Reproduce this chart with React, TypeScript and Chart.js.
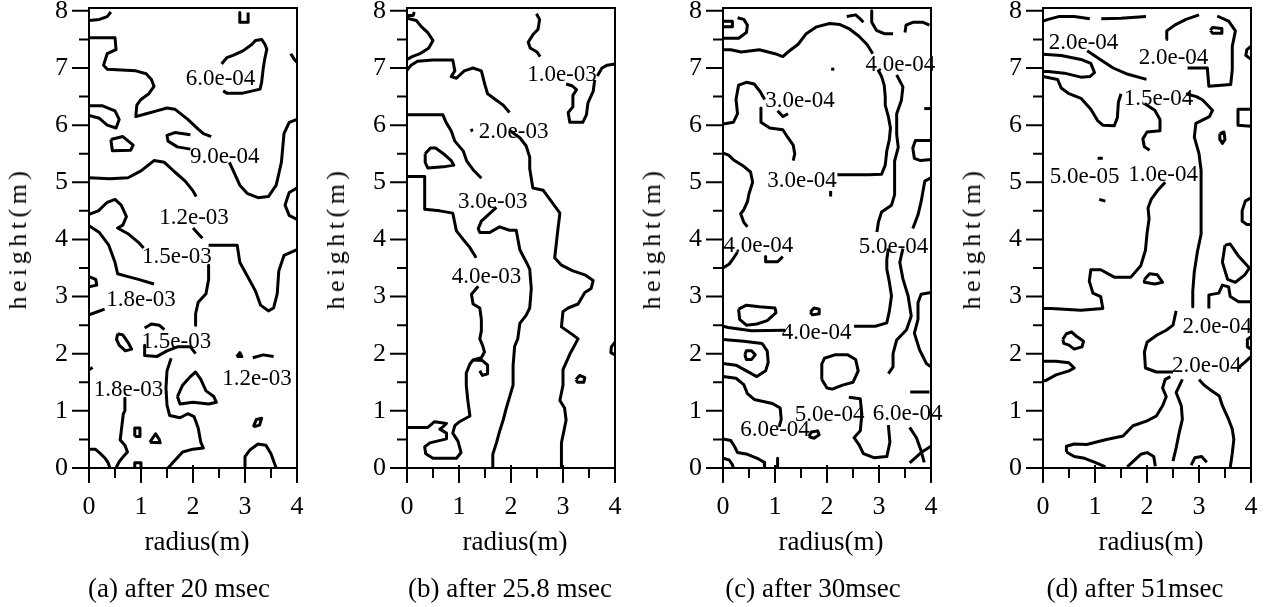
import { useEffect, useRef } from 'react';
import { Chart, registerables } from 'chart.js';

Chart.register(...registerables);

type Pt = [number, number];
type Label = [string, number, number];

// ---------- axes ----------
const xTickValues = [0, 1, 2, 3, 4];
const xMinorValues = [0.5, 1.5, 2.5, 3.5];
const yTickValues = [0, 1, 2, 3, 4, 5, 6, 7, 8];
const yMinorValues = [0.5, 1.5, 2.5, 3.5, 4.5, 5.5, 6.5, 7.5];
const radiusRange = [0, 4];
const heightRange = [0, 8.05];

const xTitle = 'radius(m)';
const yTitle = 'height(m)';
const captions = ['(a) after 20 msec', '(b) after 25.8 msec', '(c) after 30msec', '(d) after 51msec'];

// ---------- (a) after 20 msec ----------
const contoursA: Pt[][] = [
  [[0, 7.83], [0.2, 7.85], [0.35, 7.9], [0.42, 7.98]],
  [[2.9, 7.97], [2.9, 7.8], [3.06, 7.8], [3.06, 7.97]],
  [[3.88, 7.25], [3.95, 7.15], [4.0, 7.1]],
  [[2.55, 7.07], [2.65, 7.18], [2.77, 7.22], [2.96, 7.3], [3.13, 7.41], [3.2, 7.48], [3.32, 7.5], [3.38, 7.42], [3.42, 7.33], [3.38, 7.16], [3.35, 6.99], [3.32, 6.75], [3.29, 6.63], [2.96, 6.56], [2.65, 6.56], [2.58, 6.6]],
  [[0, 7.53], [0.5, 7.53], [0.52, 7.32], [0.35, 7.25], [0.28, 7.05], [0.35, 6.98], [0.9, 6.95], [1.1, 6.9], [1.2, 6.8], [1.25, 6.68], [1.15, 6.55], [1.0, 6.45], [0.92, 6.35], [0.9, 6.15], [1.1, 6.2], [1.3, 6.25], [1.5, 6.3], [1.65, 6.28], [1.9, 6.1], [2.1, 5.93], [2.2, 5.85], [2.35, 5.8]],
  [[2.7, 5.35], [2.8, 5.15], [2.9, 4.95], [3.05, 4.8], [3.25, 4.73], [3.45, 4.75], [3.6, 4.95], [3.7, 5.35], [3.75, 5.85], [3.85, 6.05], [4.0, 6.1]],
  [[0, 6.34], [0.25, 6.34], [0.5, 6.25], [0.58, 6.1], [0.52, 5.95], [0.35, 6.0], [0.2, 6.12], [0, 6.17]],
  [[0.42, 5.75], [0.65, 5.8], [0.85, 5.65], [0.8, 5.56], [0.45, 5.55], [0.42, 5.75]],
  [[1.95, 5.83], [1.65, 5.87], [1.5, 5.82], [1.52, 5.72], [1.7, 5.62], [1.95, 5.58]],
  [[0, 5.08], [0.4, 5.06], [0.75, 5.08], [1.0, 5.2], [1.25, 5.38], [1.45, 5.35], [1.65, 5.18], [1.85, 5.02], [2.0, 4.85], [2.06, 4.75]],
  [[2.0, 4.2], [2.1, 4.1], [2.18, 4.02]],
  [[2.3, 3.9], [2.85, 3.9], [2.9, 3.6], [3.05, 3.35], [3.2, 3.1], [3.3, 2.85], [3.45, 2.75], [3.55, 2.8], [3.62, 3.05], [3.65, 3.45], [3.75, 3.72], [4.0, 3.82]],
  [[4.0, 4.9], [3.85, 4.82], [3.77, 4.6], [3.85, 4.42], [4.0, 4.35]],
  [[0, 4.44], [0.18, 4.5], [0.35, 4.65], [0.5, 4.7], [0.62, 4.6], [0.72, 4.4], [0.65, 4.25], [0.55, 4.2], [0.75, 4.1], [0.95, 3.95], [1.05, 3.85]],
  [[0, 4.24], [0.2, 4.12], [0.38, 3.9], [0.5, 3.6], [0.55, 3.4], [0.75, 3.35], [0.95, 3.3], [1.25, 3.22]],
  [[2.3, 3.55], [2.3, 3.3], [2.25, 3.05], [2.1, 2.9], [2.05, 2.7], [2.05, 2.5]],
  [[1.07, 2.45], [1.2, 2.52], [1.35, 2.5], [1.45, 2.42]],
  [[0.55, 2.35], [0.65, 2.33], [0.75, 2.2], [0.82, 2.08], [0.7, 2.05], [0.58, 2.15], [0.53, 2.25], [0.55, 2.35]],
  [[1.07, 2.15], [1.07, 1.97], [1.3, 1.95], [1.5, 2.05], [1.7, 2.12], [1.95, 2.12], [2.05, 2.0]],
  [[1.58, 1.92], [1.5, 1.7], [1.48, 1.4], [1.5, 1.1], [1.55, 0.92], [1.75, 0.88], [1.9, 0.95], [2.02, 0.9], [2.1, 0.7], [2.15, 0.45], [2.2, 0.35], [2.0, 0.33], [1.8, 0.28], [1.65, 0.13], [1.52, 0]],
  [[1.7, 1.25], [1.8, 1.45], [1.95, 1.6], [2.05, 1.68], [2.15, 1.55], [2.25, 1.35], [2.4, 1.25], [2.45, 1.15], [2.3, 1.12], [2.0, 1.15], [1.75, 1.12], [1.7, 1.25]],
  [[0, 2.68], [0.15, 2.73], [0.3, 2.78]],
  [[0, 3.35], [0.13, 3.3], [0.15, 3.2], [0, 3.17]],
  [[0, 1.72], [0.07, 1.76]],
  [[0.69, 1.22], [0.69, 1.0], [0.66, 0.95], [0.63, 0.72], [0.6, 0.49], [0.69, 0.4], [0.74, 0.28], [0.66, 0.2], [0.58, 0.11], [0.52, 0]],
  [[0, 0.33], [0.12, 0.33], [0.21, 0.26], [0.31, 0.17], [0.37, 0.09], [0.4, 0]],
  [[0.88, 0.55], [0.88, 0.7], [0.98, 0.7], [0.98, 0.55], [0.88, 0.55]],
  [[1.17, 0.45], [1.28, 0.6], [1.35, 0.5], [1.37, 0.44], [1.17, 0.45]],
  [[0.88, 0], [0.88, 0.09], [1.0, 0.09], [1.0, 0]],
  [[3.0, 0], [3.0, 0.2], [3.1, 0.32], [3.25, 0.42], [3.4, 0.4], [3.5, 0.25], [3.58, 0.05], [3.6, 0]],
  [[3.16, 0.72], [3.22, 0.85], [3.32, 0.87], [3.28, 0.75], [3.16, 0.72]],
  [[2.84, 1.95], [2.9, 2.02], [2.94, 1.95], [2.84, 1.95]],
  [[3.15, 1.93], [3.35, 1.98], [3.55, 1.95]],
];
const labelsA: Label[] = [
  ['6.0e-04', 2.53, 6.8],
  ['9.0e-04', 2.61, 5.44],
  ['1.2e-03', 2.02, 4.37],
  ['1.5e-03', 1.69, 3.69],
  ['1.8e-03', 1.0, 2.94],
  ['1.5e-03', 1.68, 2.2],
  ['1.2e-03', 3.23, 1.56],
  ['1.8e-03', 0.76, 1.36],
];

// ---------- (b) after 25.8 msec ----------
const contoursB: Pt[][] = [
  [[0, 7.92], [0.12, 7.92], [0.14, 7.98]],
  [[0, 7.87], [0.18, 7.83], [0.28, 7.72], [0.4, 7.62], [0.5, 7.48], [0.42, 7.35], [0.25, 7.25], [0.1, 7.2], [0, 7.15]],
  [[0, 6.96], [0.08, 7.05], [0.2, 7.12], [0.5, 7.14], [0.88, 7.14], [0.92, 6.95], [0.85, 6.85], [0.95, 6.82], [1.1, 6.95], [1.27, 7.0], [1.43, 6.95], [1.5, 6.7], [1.55, 6.55], [1.7, 6.45], [1.85, 6.35], [1.97, 6.22]],
  [[2.49, 7.95], [2.55, 7.85], [2.52, 7.68], [2.42, 7.58], [2.33, 7.45], [2.37, 7.35], [2.5, 7.28], [2.56, 7.2]],
  [[3.61, 6.79], [3.58, 6.59], [3.48, 6.39], [3.45, 6.18], [3.38, 6.05], [3.13, 6.05], [3.1, 6.22], [3.19, 6.32], [3.19, 6.52], [3.26, 6.62], [3.17, 6.69], [3.06, 6.72]],
  [[3.66, 6.86], [3.75, 7.0], [3.85, 7.05], [4.0, 7.07]],
  [[0, 6.18], [0.69, 6.18], [0.75, 6.05], [0.85, 5.9], [0.92, 5.72], [1.08, 5.55], [1.15, 5.37], [1.27, 5.22], [1.43, 5.07]],
  [[1.22, 5.9], [1.27, 5.92]],
  [[1.97, 5.91], [2.17, 5.78], [2.29, 5.64], [2.36, 5.44], [2.36, 5.24], [2.42, 4.9], [2.62, 4.86], [2.78, 4.66], [2.94, 4.46], [2.9, 4.16], [2.84, 3.68], [2.97, 3.55], [3.19, 3.45], [3.42, 3.38], [3.58, 3.28], [3.54, 3.14], [3.42, 3.07], [3.29, 2.87], [3.1, 2.8], [3.0, 2.74], [2.97, 2.47], [3.19, 2.33], [3.29, 2.26], [3.13, 1.99], [3.0, 1.72], [3.0, 1.45], [2.94, 1.18], [3.03, 1.05], [3.06, 0.84], [2.97, 0.44], [2.97, 0]],
  [[0.35, 5.5], [0.45, 5.6], [0.55, 5.6], [0.7, 5.5], [0.85, 5.38], [0.9, 5.3], [0.7, 5.27], [0.4, 5.25], [0.35, 5.35], [0.35, 5.5]],
  [[0, 5.1], [0.34, 5.1], [0.34, 4.53], [0.63, 4.5], [0.88, 4.46], [0.95, 4.15], [1.08, 4.0], [1.2, 3.87], [1.33, 3.68]],
  [[1.72, 4.56], [1.43, 4.32], [1.37, 4.19], [1.4, 4.12], [1.59, 4.12], [1.78, 4.22], [1.97, 4.16], [2.1, 4.16], [2.17, 3.82], [2.29, 3.61], [2.36, 3.48], [2.39, 3.14], [2.36, 2.8], [2.29, 2.67], [2.17, 2.53], [2.13, 2.26], [2.07, 2.13], [2.04, 1.79], [2.04, 1.45], [1.91, 1.05], [1.85, 0.84], [1.78, 0.64], [1.72, 0.44], [1.65, 0.24], [1.65, 0]],
  [[1.37, 3.18], [1.24, 3.04], [1.27, 2.87], [1.4, 2.8], [1.43, 2.6], [1.43, 2.4], [1.4, 2.26], [1.46, 2.13], [1.49, 2.03], [1.43, 1.93], [1.27, 1.89], [1.21, 1.82], [1.14, 1.66], [1.14, 1.45], [1.17, 1.18], [1.21, 0.91], [1.01, 0.81], [0.92, 0.74], [0.88, 0.61], [0.98, 0.47], [1.04, 0.27], [0.95, 0.17], [0.5, 0.17], [0.36, 0.25], [0.34, 0.37], [0.44, 0.44], [0.76, 0.51], [0.76, 0.61], [0.63, 0.68], [0.69, 0.72], [0.76, 0.78], [0.53, 0.81], [0.4, 0.71], [0, 0.71]],
  [[1.27, 1.89], [1.45, 1.88], [1.55, 1.8], [1.55, 1.65], [1.45, 1.62], [1.4, 1.7]],
  [[3.25, 1.55], [3.32, 1.62], [3.42, 1.58], [3.4, 1.5], [3.28, 1.5], [3.25, 1.55]],
  [[4.0, 2.2], [3.93, 2.12], [3.92, 2.02], [4.0, 1.98]],
];
const labelsB: Label[] = [
  ['1.0e-03', 2.98, 6.88],
  ['2.0e-03', 2.05, 5.88],
  ['3.0e-03', 1.65, 4.66],
  ['4.0e-03', 1.53, 3.34],
];

// ---------- (c) after 30msec ----------
const contoursC: Pt[][] = [
  [[0, 7.72], [0.18, 7.72], [0.18, 7.82], [0, 7.82]],
  [[0, 7.52], [0.3, 7.52], [0.45, 7.62], [0.47, 7.75], [0.4, 7.85], [0.28, 7.88]],
  [[0, 7.32], [0.15, 7.32], [0.35, 7.28], [0.7, 7.32], [1.0, 7.25], [1.15, 7.2], [1.25, 7.28], [1.45, 7.42], [1.6, 7.6], [1.8, 7.72], [2.05, 7.78], [2.25, 7.76], [2.42, 7.69], [2.61, 7.56], [2.77, 7.41], [2.88, 7.25]],
  [[2.38, 7.9], [2.55, 7.93], [2.65, 7.85], [2.7, 7.8]],
  [[2.86, 8.0], [2.86, 7.8], [2.95, 7.66], [3.1, 7.6], [3.27, 7.6]],
  [[3.5, 7.62], [3.52, 7.75], [3.65, 7.8], [3.85, 7.8], [3.97, 7.75]],
  [[2.98, 6.97], [3.05, 6.85], [3.1, 6.7], [3.12, 6.5], [3.12, 6.35], [3.18, 6.15], [3.22, 5.95], [3.2, 5.75], [3.15, 5.55], [3.12, 5.3], [3.05, 5.14], [2.8, 5.13], [2.5, 5.13], [2.2, 5.13]],
  [[3.34, 6.88], [3.46, 6.67], [3.43, 6.43], [3.34, 6.2], [3.34, 5.84], [3.37, 5.61], [3.3, 5.37], [3.3, 5.14], [3.3, 4.78], [3.24, 4.6], [3.05, 4.48], [2.99, 4.31], [2.96, 4.13]],
  [[3.87, 6.29], [4.0, 6.29]],
  [[4.0, 5.73], [3.7, 5.73], [3.65, 5.6], [3.68, 5.42], [3.8, 5.38], [4.0, 5.4]],
  [[4.0, 5.08], [3.88, 5.02], [3.81, 4.66], [3.75, 4.43], [3.65, 4.19]],
  [[0, 6.02], [0.2, 6.05], [0.28, 6.2], [0.25, 6.45], [0.3, 6.7], [0.45, 6.75], [0.6, 6.72], [0.72, 6.58], [0.8, 6.45]],
  [[0.73, 6.3], [0.73, 6.05], [0.9, 5.95], [1.15, 5.92], [1.25, 5.78], [1.35, 5.65], [1.38, 5.5], [1.35, 5.38]],
  [[1.05, 6.25], [1.15, 6.15], [1.25, 6.2]],
  [[2.08, 6.98], [2.14, 6.98]],
  [[2.07, 4.75], [2.07, 4.85]],
  [[0, 5.51], [0.1, 5.48], [0.22, 5.38], [0.4, 5.28], [0.53, 5.18], [0.57, 5.0], [0.5, 4.8], [0.47, 4.66], [0.4, 4.52], [0.34, 4.45], [0.4, 4.3], [0.47, 4.22]],
  [[0, 3.5], [0.12, 3.57], [0.2, 3.67], [0.28, 3.78]],
  [[0.82, 3.7], [0.82, 3.61], [1.05, 3.61], [1.15, 3.7]],
  [[0.3, 2.78], [0.32, 2.6], [0.45, 2.5], [0.65, 2.52], [0.85, 2.58], [1.02, 2.72], [1.0, 2.8], [0.7, 2.82], [0.45, 2.85], [0.3, 2.78]],
  [[1.68, 2.73], [1.75, 2.8], [1.85, 2.78], [1.85, 2.7], [1.72, 2.68], [1.68, 2.73]],
  [[0, 2.48], [0.1, 2.46], [0.55, 2.4], [1.2, 2.41]],
  [[2.52, 2.48], [2.93, 2.48], [3.15, 2.54], [3.2, 2.75], [3.24, 3.01], [3.2, 3.25], [3.15, 3.48], [3.15, 3.65], [3.18, 3.84]],
  [[3.46, 3.84], [3.4, 3.6], [3.46, 3.31], [3.56, 3.01], [3.62, 2.66], [3.53, 2.42], [3.34, 2.24], [3.27, 2.0], [3.27, 1.77], [3.18, 1.65]],
  [[4.0, 3.07], [3.81, 3.04], [3.75, 2.89], [3.75, 2.6], [3.68, 2.36], [3.78, 2.07], [3.91, 1.83], [4.0, 1.77]],
  [[0, 2.25], [0.4, 2.22], [0.75, 2.18], [0.85, 2.05], [0.87, 1.85], [0.82, 1.7], [0.65, 1.6], [0.45, 1.7], [0.25, 1.8], [0, 1.83]],
  [[0.42, 1.98], [0.45, 2.05], [0.55, 2.05], [0.62, 1.98], [0.55, 1.9], [0.45, 1.9], [0.42, 1.98]],
  [[0, 1.6], [0.25, 1.57], [0.4, 1.46], [0.47, 1.3], [0.6, 1.2], [0.95, 1.13], [1.1, 1.05], [1.12, 0.85], [1.08, 0.72]],
  [[0, 0.51], [0.15, 0.48], [0.22, 0.38], [0.28, 0.27], [0.47, 0.24], [0.66, 0.17], [0.79, 0.1], [0.8, 0.03]],
  [[0, 0.17], [0.12, 0.14], [0.18, 0.06], [0.2, 0]],
  [[1.05, 0.17], [1.05, 0]],
  [[1.65, 0.55], [1.7, 0.63], [1.82, 0.65], [1.85, 0.58], [1.75, 0.52], [1.65, 0.55]],
  [[1.9, 1.55], [1.9, 1.82], [1.95, 1.92], [2.15, 1.98], [2.4, 1.98], [2.55, 1.9], [2.6, 1.7], [2.5, 1.5], [2.3, 1.45], [2.1, 1.38], [2.0, 1.4], [1.9, 1.55]],
  [[2.42, 1.24], [2.64, 1.21], [2.67, 0.94], [2.64, 0.65], [2.52, 0.53], [2.62, 0.4], [2.7, 0.25], [2.9, 0.18], [3.15, 0.2], [3.21, 0.45], [3.18, 0.75]],
  [[3.6, 1.33], [3.97, 1.33]],
  [[3.59, 0.09], [3.81, 0.27], [4.0, 0.38]],
  [[3.59, 0.71], [3.72, 0.53], [3.81, 0.3], [3.87, 0.1]],
];
const labelsC: Label[] = [
  ['4.0e-04', 3.41, 7.05],
  ['3.0e-04', 1.48, 6.42],
  ['3.0e-04', 1.52, 5.03],
  ['4.0e-04', 0.68, 3.88],
  ['5.0e-04', 3.28, 3.86],
  ['4.0e-04', 1.8, 2.36],
  ['5.0e-04', 2.05, 0.92],
  ['6.0e-04', 3.55, 0.94],
  ['6.0e-04', 1.0, 0.66],
];

// ---------- (d) after 51msec ----------
const contoursD: Pt[][] = [
  [[0, 7.82], [0.1, 7.85], [0.3, 7.9], [0.6, 7.9], [0.9, 7.86]],
  [[1.12, 7.86], [1.5, 7.87], [1.98, 7.9]],
  [[2.37, 7.5], [2.38, 7.65], [2.55, 7.76], [2.75, 7.85], [3.0, 7.93]],
  [[2.78, 7.0], [3.16, 7.0], [3.19, 6.68], [3.61, 6.71], [3.64, 6.97], [3.64, 7.38], [3.7, 7.65], [3.57, 7.82], [3.35, 7.91]],
  [[3.22, 7.66], [3.26, 7.71], [3.44, 7.69], [3.44, 7.61], [3.26, 7.61], [3.22, 7.66]],
  [[4.0, 7.38], [3.92, 7.32], [3.9, 7.22], [4.0, 7.15]],
  [[0, 7.24], [0.35, 7.22], [0.73, 7.15], [0.92, 7.08], [0.99, 6.92], [0.9, 6.85], [0.73, 6.84], [0.41, 6.91], [0.1, 6.94], [0, 6.94]],
  [[0.85, 7.3], [1.1, 7.15], [1.35, 7.0], [1.6, 6.9], [1.99, 6.8]],
  [[0, 6.85], [0.28, 6.8], [0.35, 6.65], [0.5, 6.55], [0.73, 6.47], [0.92, 6.28], [1.05, 6.08], [1.15, 6.0], [1.37, 5.99], [1.43, 6.13], [1.45, 6.4], [1.5, 6.55]],
  [[1.95, 6.38], [2.15, 6.26], [2.25, 6.1], [2.25, 5.9], [2.0, 5.88], [1.92, 5.76], [1.95, 5.62], [2.05, 5.56]],
  [[2.75, 6.55], [2.95, 6.5], [3.07, 6.44], [3.26, 6.26], [3.2, 6.15], [2.94, 6.03], [2.91, 5.79], [3.0, 5.5], [3.04, 5.21], [3.04, 4.62], [3.04, 4.09], [2.97, 3.79], [2.91, 3.44], [2.88, 3.09], [2.88, 2.82]],
  [[2.35, 5.0], [2.2, 4.85], [2.08, 4.7], [2.02, 4.55], [2.04, 4.36], [2.0, 4.1], [1.97, 3.81], [1.88, 3.54], [1.69, 3.34], [1.37, 3.34], [1.11, 3.47], [0.92, 3.47], [0.89, 3.27], [0.96, 3.06], [1.11, 3.0], [1.15, 2.79], [0.73, 2.76], [0.16, 2.79], [0, 2.79]],
  [[1.95, 3.3], [2.05, 3.4], [2.2, 3.38], [2.3, 3.25], [2.15, 3.22], [1.95, 3.25], [1.95, 3.3]],
  [[1.08, 4.7], [1.2, 4.67]],
  [[1.05, 5.42], [1.15, 5.42]],
  [[0.38, 2.25], [0.45, 2.35], [0.55, 2.38], [0.65, 2.3], [0.78, 2.22], [0.75, 2.12], [0.6, 2.08], [0.5, 2.15], [0.4, 2.18], [0.38, 2.25]],
  [[0, 1.87], [0.25, 1.87], [0.5, 1.84], [0.6, 1.75], [0.5, 1.7], [0.25, 1.63], [0.05, 1.53], [0, 1.52]],
  [[2.56, 2.75], [2.5, 2.5], [2.37, 2.41], [2.18, 2.32], [2.0, 2.2], [1.95, 2.03], [1.97, 1.75], [2.18, 1.68], [2.5, 1.68]],
  [[2.68, 1.55], [2.56, 1.32], [2.66, 1.09], [2.68, 0.85], [2.62, 0.62], [2.56, 0.35], [2.5, 0.12]],
  [[0.45, 0.28], [0.45, 0.38], [0.6, 0.42], [0.84, 0.41], [1.22, 0.5], [1.54, 0.56], [1.73, 0.74], [1.99, 0.82], [2.18, 0.91], [2.3, 1.09], [2.37, 1.25], [2.3, 1.4], [2.35, 1.55], [2.45, 1.6]],
  [[0.45, 0.28], [0.6, 0.2], [0.8, 0.17], [1.0, 0.1], [1.2, 0.02]],
  [[1.62, 0.02], [1.75, 0.13], [1.88, 0.24], [2.0, 0.27], [2.13, 0.2], [2.16, 0.03]],
  [[2.85, 0.05], [2.92, 0.18], [3.05, 0.2], [3.15, 0.1]],
  [[3.0, 1.55], [3.1, 1.45], [3.2, 1.38], [3.39, 1.26], [3.45, 1.09], [3.57, 0.85], [3.64, 0.68], [3.67, 0.5], [3.64, 0.26], [3.6, 0.0]],
  [[3.75, 1.75], [3.88, 1.85], [4.0, 1.95]],
  [[4.0, 2.3], [3.93, 2.25], [3.93, 2.12], [4.0, 2.08]],
  [[3.5, 3.9], [3.45, 3.6], [3.55, 3.3], [3.7, 3.25], [3.88, 3.38], [3.97, 3.5], [3.75, 3.72], [3.6, 3.92], [3.5, 3.9]],
  [[3.19, 2.79], [3.19, 3.03], [3.38, 3.06], [3.45, 3.2], [3.57, 3.17], [3.6, 3.0], [3.76, 2.91], [4.0, 2.91]],
  [[4.0, 4.73], [3.89, 4.67], [3.83, 4.5], [3.83, 4.32], [3.92, 4.26], [4.0, 4.26]],
  [[3.4, 5.85], [3.48, 5.88], [3.5, 5.75], [3.45, 5.68], [3.4, 5.75], [3.4, 5.85]],
  [[4.0, 6.28], [3.75, 6.28], [3.75, 6.0], [4.0, 5.98]],
];
const labelsD: Label[] = [
  ['2.0e-04', 0.78, 7.44],
  ['2.0e-04', 2.51, 7.18],
  ['1.5e-04', 2.22, 6.45],
  ['5.0e-05', 0.8, 5.09],
  ['1.0e-04', 2.31, 5.12],
  ['2.0e-04', 3.35, 2.46],
  ['2.0e-04', 3.15, 1.78],
];

// ---------- layout ----------
const SERIF = "'Liberation Serif', 'Times New Roman', Times, serif";
const PANEL_LEFTS = [89, 407, 723, 1043];
const CAPTION_CENTERS = [179, 510, 813, 1135];
const PLOT_W = 208;
const PLOT_TOP = 8;
const PLOT_BOTTOM = 468;
const Y_AXIS_W = 89;
const CANVAS_TOP = -10;
const PAD_RIGHT = 20;
const CANVAS_W = Y_AXIS_W + PLOT_W + PAD_RIGHT;
const CANVAS_H = 540;

const panels = [
  { contours: contoursA, labels: labelsA },
  { contours: contoursB, labels: labelsB },
  { contours: contoursC, labels: labelsC },
  { contours: contoursD, labels: labelsD },
];

function Panel({ index }: { index: number }) {
  const ref = useRef<HTMLCanvasElement | null>(null);
  const { contours, labels } = panels[index];
  const left = PANEL_LEFTS[index];

  useEffect(() => {
    if (!ref.current) return;
    const framePlugin = {
      id: 'frameTicksLabels',
      afterDraw(chart: any) {
        const { ctx, chartArea } = chart;
        const xs = chart.scales.x;
        const ys = chart.scales.y;
        ctx.save();
        ctx.strokeStyle = '#000';
        ctx.lineWidth = 2;
        ctx.strokeRect(chartArea.left, chartArea.top, chartArea.right - chartArea.left, chartArea.bottom - chartArea.top);
        ctx.beginPath();
        for (const v of yTickValues) {
          const y = ys.getPixelForValue(v);
          ctx.moveTo(chartArea.left - 17, y);
          ctx.lineTo(chartArea.left, y);
        }
        for (const v of yMinorValues) {
          const y = ys.getPixelForValue(v);
          ctx.moveTo(chartArea.left - 10, y);
          ctx.lineTo(chartArea.left, y);
        }
        for (const v of xTickValues) {
          const x = xs.getPixelForValue(v);
          ctx.moveTo(x, chartArea.bottom - 3);
          ctx.lineTo(x, chartArea.bottom + 15);
        }
        for (const v of xMinorValues) {
          const x = xs.getPixelForValue(v);
          ctx.moveTo(x, chartArea.bottom);
          ctx.lineTo(x, chartArea.bottom + 10);
        }
        ctx.stroke();
        ctx.fillStyle = '#000';
        ctx.font = `23px ${SERIF}`;
        ctx.textAlign = 'center';
        ctx.textBaseline = 'middle';
        for (const [text, r, h] of labels) {
          ctx.fillText(text, xs.getPixelForValue(r), ys.getPixelForValue(h));
        }
        ctx.restore();
      },
    };

    const tickFont = { family: SERIF, size: 26 };
    const chart = new Chart(ref.current, {
      type: 'line',
      data: {
        datasets: contours.map((line) => ({
          data: line.map(([r, h]) => ({ x: r, y: h })),
          borderColor: '#000',
          borderWidth: 3,
          pointRadius: 0,
          tension: 0,
          fill: false,
          borderJoinStyle: 'round' as const,
          borderCapStyle: 'butt' as const,
        })),
      },
      options: {
        animation: false,
        responsive: false,
        maintainAspectRatio: false,
        events: [],
        parsing: false as any,
        layout: { padding: { top: PLOT_TOP - CANVAS_TOP, right: PAD_RIGHT, left: 0, bottom: 0 } },
        plugins: { legend: { display: false }, tooltip: { enabled: false }, title: { display: false } },
        scales: {
          x: {
            type: 'linear',
            position: 'bottom',
            min: radiusRange[0],
            max: radiusRange[1],
            afterBuildTicks: (s: any) => { s.ticks = xTickValues.map((v) => ({ value: v })); },
            afterFit: (s: any) => { s.height = CANVAS_H - (PLOT_BOTTOM - CANVAS_TOP); s.paddingLeft = 0; s.paddingRight = 0; },
            grid: { display: false, drawTicks: false },
            border: { display: false },
            ticks: { color: '#000', font: tickFont, padding: 24, maxRotation: 0, autoSkip: false },
          },
          y: {
            type: 'linear',
            position: 'left',
            min: heightRange[0],
            max: heightRange[1],
            afterBuildTicks: (s: any) => { s.ticks = yTickValues.map((v) => ({ value: v })); },
            afterFit: (s: any) => { s.width = Y_AXIS_W; s.paddingTop = 0; s.paddingBottom = 0; },
            grid: { display: false, drawTicks: false },
            border: { display: false },
            ticks: { color: '#000', font: tickFont, padding: 21, autoSkip: false },
          },
        },
      },
      plugins: [framePlugin],
    } as any);
    return () => chart.destroy();
  }, [index]);

  const center = left + PLOT_W / 2;
  const textBase: React.CSSProperties = {
    position: 'absolute',
    fontFamily: SERIF,
    color: '#000',
    whiteSpace: 'nowrap',
    lineHeight: 1,
  };
  return (
    <>
      <canvas
        ref={ref}
        width={CANVAS_W}
        height={CANVAS_H}
        style={{ position: 'absolute', left: left - Y_AXIS_W, top: CANVAS_TOP, width: CANVAS_W, height: CANVAS_H }}
      />
      <div
        style={{
          ...textBase,
          fontSize: 26,
          letterSpacing: '4.5px',
          left: left - 71,
          top: (PLOT_TOP + PLOT_BOTTOM) / 2,
          transform: 'translate(-50%, -50%) rotate(-90deg)',
        }}
      >
        {yTitle}
      </div>
      <div style={{ ...textBase, fontSize: 27, left: center + 4, top: 541, transform: 'translate(-50%, -50%)' }}>{xTitle}</div>
      <div style={{ ...textBase, fontSize: 27, left: CAPTION_CENTERS[index], top: 588, transform: 'translate(-50%, -50%)' }}>
        {captions[index]}
      </div>
    </>
  );
}

export default function App() {
  return (
    <div style={{ position: 'absolute', left: 0, top: 0, width: 1266, height: 607, background: '#fff', overflow: 'hidden' }}>
      {[0, 1, 2, 3].map((i) => (
        <Panel key={i} index={i} />
      ))}
    </div>
  );
}
